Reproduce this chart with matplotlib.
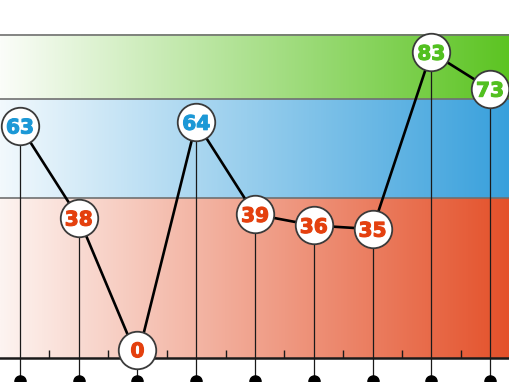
import numpy as np
import matplotlib
matplotlib.use("Agg")
import matplotlib.pyplot as plt
import matplotlib.patheffects as pe
from matplotlib.colors import LinearSegmentedColormap
from matplotlib.transforms import offset_copy

# values, one per column
values = [63, 38, 0, 64, 39, 36, 35, 83, 73]

# score bands: (low, high, colour at right end, colour at left end, text colour)
band_edges = [0, 43.5, 70.4, 87.8]
band_right = ["#e4512a", "#38a0dc", "#5cc422"]
band_left = ["#fdf4f1", "#f2f9fd", "#fbfdf9"]
text_colors = ["#e4400e", "#1c98d6", "#52c020"]

x = np.arange(len(values))
xlim = (-0.34, len(values) - 1 + 0.34)
ylim = (-6.5, 97.2)

fig = plt.figure(figsize=(5.1, 3.82), dpi=100)
ax = fig.add_axes([0, 0, 1, 1])
ax.set_xlim(*xlim)
ax.set_ylim(*ylim)
ax.axis("off")

# gradient bands
grad = np.linspace(0, 1, 256).reshape(1, -1)
for i in range(3):
    cmap = LinearSegmentedColormap.from_list("b%d" % i, [band_left[i], band_right[i]])
    ax.imshow(grad, cmap=cmap, aspect="auto", zorder=0,
              extent=(xlim[0], xlim[1], band_edges[i], band_edges[i + 1]))
ax.hlines(band_edges[1:], xlim[0], xlim[1], color="#707070", lw=1.2, zorder=1)

# baseline + minor ticks
ax.axhline(0, color="#1a1a1a", lw=1.8, zorder=2)
ax.vlines(x[:-1] + 0.5, 0, 2.3, color="#1a1a1a", lw=1.0, zorder=2)

# drop lines and dots under the axis
ax.vlines(x, -6.3, values, color="#1a1a1a", lw=0.9, zorder=3)
ax.plot(x, [-6.3] * len(x), "o", color="black", ms=8, zorder=3, clip_on=True)

# connecting line
ax.plot(x, values, color="black", lw=1.9, zorder=4, solid_joinstyle="round")


def band_of(v):
    for i in range(3):
        if v < band_edges[i + 1]:
            return i
    return 2


for xi, v in zip(x, values):
    # lift the baseline bubble a little so it sits on the axis
    tr = offset_copy(ax.transData, fig=fig, x=0, y=6 if v == 0 else 0, units="points")
    ax.plot([xi], [v], "o", ms=27, mfc="white", mec="#3a3a3a", mew=1.3,
            transform=tr, zorder=5)
    col = text_colors[band_of(v)]
    ax.text(xi, v, str(v), transform=tr, ha="center", va="center_baseline",
            fontsize=14.5, fontweight="bold", color=col, zorder=6,
            path_effects=[pe.withStroke(linewidth=0.8, foreground=col)])

fig.savefig("out.png", dpi=100)
